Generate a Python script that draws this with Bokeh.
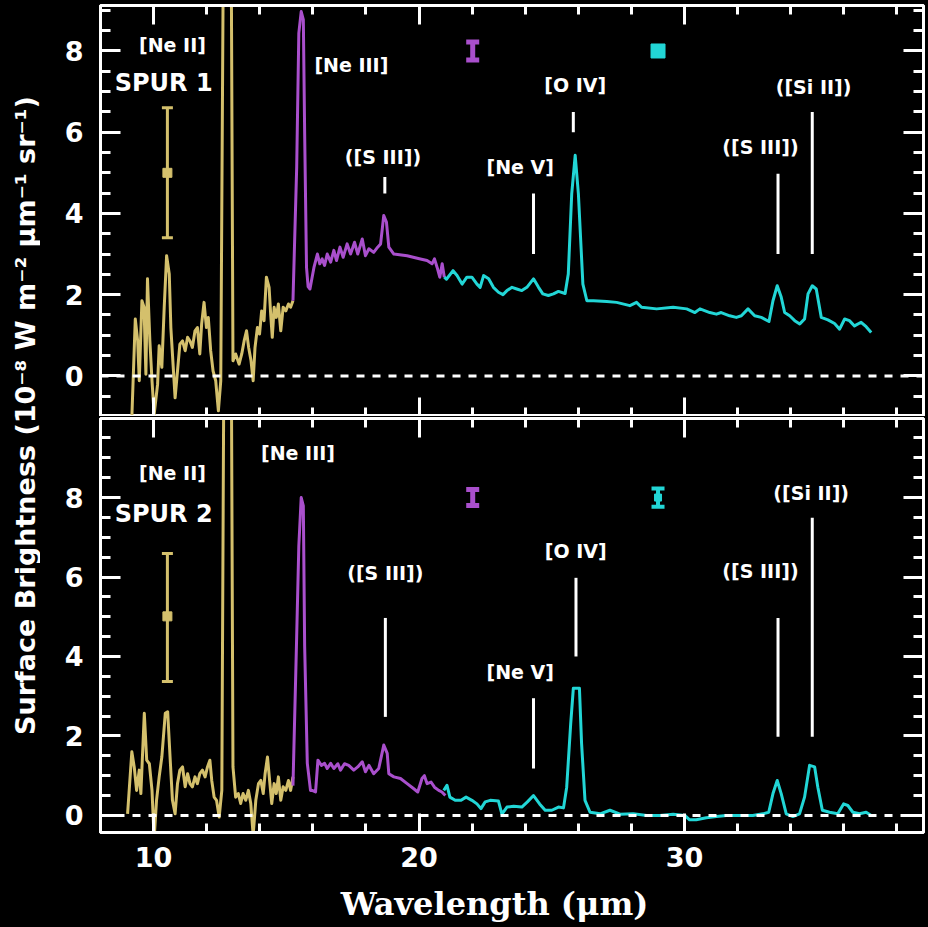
import math
from bokeh.plotting import figure
from bokeh.layouts import row, column
from bokeh.models import (Range1d, SingleIntervalTicker, LinearAxis, Span, Whisker,
                          TeeHead, ColumnDataSource, Label, CustomLabelingPolicy)
from bokeh.embed import file_html
from bokeh.resources import INLINE
from bokeh.core.properties import value

YELLOW = "#d4c06c"
PURPLE = "#a94fcc"
CYAN = "#22d6d6"

# ---------------- SPUR 1 (top panel) ----------------
wl1_short = [9.15, 9.31, 9.40, 9.46, 9.56, 9.64, 9.71, 9.77, 9.86, 9.94, 10.02, 10.15, 10.21,
             10.31, 10.40, 10.49, 10.59, 10.65, 10.74, 10.81, 10.90, 10.99, 11.09, 11.19, 11.28,
             11.37, 11.46, 11.56, 11.65, 11.74, 11.81, 11.90, 11.99, 12.06, 12.15, 12.24, 12.34,
             12.44, 12.53, 12.66, 12.90, 12.99, 13.09, 13.22, 13.32, 13.41, 13.50, 13.58, 13.67,
             13.75, 13.82, 13.91, 13.99, 14.07, 14.16, 14.25, 14.35, 14.41, 14.47, 14.54, 14.62,
             14.70, 14.79, 14.88, 14.98, 15.08, 15.16, 15.25]
sb1_short = [-1.6, 1.40, 0.86, -0.12, 1.85, 1.69, 0.04, 2.39, 0.86, -0.12, -0.95, -0.21, 0.74,
             0.21, 1.69, 2.96, 2.51, 1.19, 0.21, -0.54, 0.12, 0.78, 0.86, 0.62, 0.95,
             0.86, 0.70, 1.11, 1.19, 0.54, 1.28, 1.81, 1.19, 1.44, 0.62, 0.12, -0.12,
             -0.86, -0.12, 14.0, 14.0, 0.37, 0.54, 0.29, 0.54, 0.86, 1.11, 0.70, 0.37,
             -0.12, 0.70, 1.19, 1.03, 1.60, 1.36, 2.43, 2.18, 1.52, 0.95, 1.69, 1.44,
             1.77, 1.11, 1.69, 1.60, 1.77, 1.69, 1.85]

wl1_mid = [15.25, 15.39, 15.47, 15.56, 15.64, 15.69, 15.76, 15.82, 15.89, 16.04, 16.17, 16.26,
           16.35, 16.44, 16.54, 16.67, 16.79, 16.89, 17.02, 17.14, 17.29, 17.42, 17.57, 17.69,
           17.86, 17.98, 18.11, 18.29, 18.44, 18.55, 18.67, 18.77, 18.86, 19.05, 19.55, 20.05,
           20.30, 20.49, 20.58, 20.68, 20.78, 20.87, 20.95]
sb1_mid = [1.85, 5.14, 8.44, 8.97, 8.77, 5.97, 2.67, 2.20, 2.14, 2.67, 3.00, 2.76,
           2.88, 2.72, 3.00, 2.80, 3.09, 2.84, 3.17, 2.92, 3.25, 3.00, 3.29, 3.00,
           3.37, 2.96, 3.13, 3.04, 3.17, 3.25, 3.95, 3.79, 3.17, 3.00, 2.96, 2.88,
           2.84, 2.76, 2.88, 2.67, 2.43, 2.76, 2.43]

wl1_long = [20.95, 21.03, 21.28, 21.43, 21.62, 21.80, 21.99, 22.18, 22.30, 22.43, 22.62, 22.80,
            22.99, 23.16, 23.31, 23.50, 23.68, 23.87, 24.06, 24.31, 24.50, 24.66, 24.87, 25.06,
            25.25, 25.50, 25.62, 25.75, 25.88, 26.00, 26.17, 26.32, 26.57, 27.07, 27.44, 27.94,
            28.19, 28.38, 28.95, 29.57, 30.08, 30.39, 30.58, 30.95, 31.20, 31.38, 31.70, 31.95,
            32.14, 32.39, 32.64, 32.89, 33.18, 33.33, 33.49, 33.64, 33.77, 33.96, 34.15, 34.34,
            34.52, 34.65, 34.81, 34.96, 35.15, 35.40, 35.65, 35.84, 36.03, 36.21, 36.40, 36.65,
            36.84, 37.03]
sb1_long = [2.43, 2.38, 2.59, 2.47, 2.26, 2.43, 2.43, 2.26, 2.18, 2.47, 2.39, 2.18,
            2.06, 2.00, 2.10, 2.18, 2.14, 2.10, 2.18, 2.39, 2.18, 2.02, 1.98, 2.02,
            2.08, 2.03, 2.51, 4.49, 5.43, 4.49, 2.26, 1.85, 1.85, 1.83, 1.81, 1.73,
            1.81, 1.69, 1.65, 1.69, 1.65, 1.56, 1.65, 1.56, 1.52, 1.56, 1.48, 1.44,
            1.48, 1.65, 1.48, 1.44, 1.34, 1.85, 2.22, 1.94, 1.56, 1.48, 1.36, 1.28,
            1.40, 2.02, 2.22, 2.14, 1.44, 1.38, 1.29, 1.15, 1.40, 1.36, 1.23, 1.32,
            1.21, 1.07]

# error bars: x, centre, lower, upper
err1_x = [10.52, 22.02, 29.0]
err1_y = [5.0, 8.0, 8.0]
err1_lo = [3.4, 7.78, 7.9]
err1_hi = [6.6, 8.22, 8.1]

# ---------------- SPUR 2 (bottom panel) ----------------
wl2_short = [9.02, 9.18, 9.27, 9.36, 9.46, 9.52, 9.65, 9.74, 9.84, 9.94, 10.02, 10.11, 10.21,
             10.31, 10.44, 10.53, 10.62, 10.71, 10.81, 10.90, 10.99, 11.09, 11.19, 11.28, 11.37,
             11.46, 11.56, 11.65, 11.74, 11.84, 11.94, 12.03, 12.12, 12.19, 12.28, 12.37, 12.47,
             12.57, 12.68, 12.90, 12.99, 13.09, 13.19, 13.28, 13.37, 13.47, 13.57, 13.66, 13.75,
             13.85, 13.95, 14.04, 14.13, 14.20, 14.29, 14.37, 14.45, 14.54, 14.62, 14.70, 14.79,
             14.88, 14.98, 15.08, 15.16, 15.25]
sb2_short = [0.04, 1.60, 1.22, 0.63, 1.14, 0.55, 2.57, 1.39, 1.30, 0.63, -0.6, 0.38, 0.97,
             1.47, 2.57, 2.61, 1.47, 0.38, 0.04, 0.80, 1.14, 1.22, 0.72, 1.05, 0.80,
             0.72, 0.97, 0.80, 1.05, 1.14, 0.97, 1.22, 1.39, 0.88, 0.46, 0.38, -0.04,
             0.63, 16.0, 16.0, 1.22, 0.46, 0.55, 0.30, 0.55, 0.38, 0.63, 0.30, -0.5,
             0.38, 0.80, 0.88, 0.55, 1.05, 1.47, 0.88, 0.30, 0.80, 0.55, 0.97, 0.38,
             0.72, 0.63, 0.88, 0.63, 0.97]

wl2_mid = [15.25, 15.38, 15.47, 15.56, 15.64, 15.69, 15.79, 15.91, 15.97, 16.10, 16.19, 16.32,
           16.44, 16.54, 16.67, 16.79, 16.94, 17.04, 17.19, 17.35, 17.54, 17.69, 17.86, 17.98,
           18.11, 18.29, 18.48, 18.67, 18.80, 18.86, 19.05, 19.30, 19.55, 19.80, 19.95, 20.11,
           20.20, 20.30, 20.45, 20.58, 20.74, 20.86, 20.99]
sb2_mid = [0.75, 4.25, 6.78, 8.00, 7.79, 4.25, 1.31, 0.63, 0.63, 0.59, 1.39, 1.26,
           1.31, 1.18, 1.31, 1.18, 1.30, 1.14, 1.30, 1.26, 1.14, 1.22, 1.35, 1.10,
           1.26, 1.05, 1.18, 1.77, 1.56, 1.05, 0.97, 0.93, 0.80, 0.67, 0.59, 0.93,
           1.00, 0.80, 0.84, 0.71, 0.63, 0.59, 0.50]

wl2_long = [20.93, 21.05, 21.16, 21.36, 21.58, 21.77, 21.99, 22.18, 22.33, 22.49, 22.68, 22.99,
            23.12, 23.31, 23.56, 23.87, 24.08, 24.31, 24.54, 24.75, 25.00, 25.25, 25.44, 25.56,
            25.71, 25.81, 26.04, 26.12, 26.25, 26.44, 26.82, 27.19, 27.57, 28.07, 28.57, 29.07,
            29.57, 30.01, 30.19, 30.44, 30.82, 31.20, 31.57, 32.07, 32.57, 32.95, 33.17, 33.33,
            33.49, 33.64, 33.83, 34.08, 34.33, 34.52, 34.71, 34.90, 35.02, 35.19, 35.46, 35.77,
            35.99, 36.15, 36.34, 36.59, 36.84, 37.03]
sb2_long = [0.63, 0.76, 0.46, 0.38, 0.38, 0.46, 0.38, 0.29, 0.17, 0.34, 0.38, 0.36,
            0.03, 0.21, 0.23, 0.21, 0.34, 0.50, 0.29, 0.13, 0.13, 0.21, 0.19, 0.71,
            2.30, 3.20, 3.20, 1.82, 0.38, 0.08, 0.04, 0.13, 0.03, 0.04, 0.00, 0.00,
            0.03, 0.00, -0.11, -0.11, -0.06, -0.03, 0.00, 0.00, 0.00, 0.04, 0.08, 0.55,
            0.88, 0.55, 0.04, -0.03, 0.04, 0.46, 1.26, 1.22, 0.71, 0.13, 0.08, 0.04,
            0.29, 0.25, 0.08, 0.04, 0.08, 0.00]

err2_x = [10.52, 22.02, 29.0]
err2_y = [5.01, 8.0, 8.0]
err2_lo = [3.37, 7.8, 7.77]
err2_hi = [6.59, 8.2, 8.23]

# line identifications: label, label x, label y, marker x, marker y0, marker y1
lines1_text = ["[Ne II]", "[Ne III]", "([S III])", "[Ne V]", "[O IV]", "([S III])", "([Si II])"]
lines1_tx = [10.71, 17.45, 18.64, 23.81, 25.88, 32.86, 34.86]
lines1_ty = [8.15, 7.65, 5.39, 5.14, 7.16, 5.64, 7.12]
marks1_x = [18.71, 24.31, 25.81, 33.52, 34.81]
marks1_y0 = [4.49, 3.0, 6.0, 3.0, 3.0]
marks1_y1 = [4.90, 4.49, 6.5, 4.98, 6.5]

lines2_text = ["[Ne II]", "[Ne III]", "([S III])", "[Ne V]", "[O IV]", "([S III])", "([Si II])"]
lines2_tx = [10.71, 15.44, 18.73, 23.81, 25.90, 32.86, 34.77]
lines2_ty = [8.63, 9.13, 6.10, 3.62, 6.65, 6.14, 8.12]
marks2_x = [18.73, 24.31, 25.91, 33.52, 34.81]
marks2_y0 = [2.48, 1.18, 4.0, 1.98, 1.98]
marks2_y1 = [4.97, 2.95, 5.98, 4.97, 7.49]

FONT = "DejaVu Sans"


def style_axis(ax, labels):
    ax.axis_line_color = "white"
    ax.axis_line_width = 3
    ax.major_tick_line_color = "white"
    ax.major_tick_line_width = 3
    ax.minor_tick_line_color = "white"
    ax.minor_tick_line_width = 3
    ax.major_tick_out = 0
    ax.minor_tick_out = 0
    ax.axis_label = None
    if labels:
        ax.major_label_text_color = "white"
        ax.major_label_text_font = FONT
        ax.major_label_text_font_style = "bold"
        ax.major_label_text_font_size = "27px"
    else:
        ax.major_label_text_font_size = "0px"
        ax.major_label_standoff = 0
        ax.major_label_policy = CustomLabelingPolicy(code="return []")


def blank_fig(w, h):
    f = figure(width=w, height=h, x_range=Range1d(0, 1), y_range=Range1d(0, 1),
               toolbar_location=None, output_backend="svg",
               x_axis_location=None, y_axis_location=None, min_border=0)
    f.background_fill_color = "black"
    f.border_fill_color = "black"
    f.outline_line_color = None
    f.grid.visible = False
    return f


def make_panel(height, yr, mb_top, mb_bottom, show_x_labels, spectra, err, labels, marks, spur):
    p = figure(width=888, height=height, x_range=Range1d(8, 39), y_range=Range1d(*yr),
               toolbar_location=None, output_backend="svg",
               x_axis_location=None, y_axis_location=None,
               min_border_left=60, min_border_right=5,
               min_border_top=mb_top, min_border_bottom=mb_bottom)
    p.background_fill_color = "black"
    p.border_fill_color = "black"
    p.outline_line_color = "white"
    p.outline_line_width = 3
    p.grid.visible = False

    for loc, lab in (("below", show_x_labels), ("above", False)):
        ax = LinearAxis(ticker=SingleIntervalTicker(interval=10, num_minor_ticks=5))
        style_axis(ax, lab)
        ax.major_tick_in = 19
        ax.minor_tick_in = 9
        if lab:
            ax.major_label_standoff = 14
        p.add_layout(ax, loc)
    for loc, lab in (("left", True), ("right", False)):
        ax = LinearAxis(ticker=SingleIntervalTicker(interval=2, num_minor_ticks=4))
        style_axis(ax, lab)
        ax.major_tick_in = 20
        ax.minor_tick_in = 10
        if lab:
            ax.major_label_standoff = 17
        p.add_layout(ax, loc)

    p.add_layout(Span(location=0, dimension="width", line_color="white",
                      line_width=3, line_dash="8 8"))

    for (wl, sb), col in zip(spectra, (YELLOW, PURPLE, CYAN)):
        p.line(wl, sb, line_color=col, line_width=3, line_join="round")

    ex, ey, elo, ehi = err
    cols = [YELLOW, PURPLE, CYAN]
    widths = [3, 5, 4]
    heads = [11, 13, 13]
    for i in range(3):
        src = ColumnDataSource(dict(x=[ex[i]], lo=[elo[i]], hi=[ehi[i]]))
        p.add_layout(Whisker(base="x", lower="lo", upper="hi", source=src, dimension="height",
                             line_color=cols[i], line_width=widths[i],
                             upper_head=TeeHead(size=heads[i], line_color=cols[i], line_width=widths[i]),
                             lower_head=TeeHead(size=heads[i], line_color=cols[i], line_width=widths[i])))
    p.scatter([ex[0]], [ey[0]], marker="square", size=9, color=YELLOW)
    p.scatter([ex[2]], [ey[2]], marker="square", size=spur[2], color=CYAN)

    txt, tx, ty = labels
    p.text(tx, ty, text=txt, text_color="white", text_font=value(FONT),
           text_font_style="bold", text_font_size="19px",
           text_align="center", text_baseline="middle")
    mx, my0, my1 = marks
    p.segment(mx, my0, mx, my1, line_color="white", line_width=3)

    p.text([10.38], [spur[1]], text=[spur[0]], text_color="white", text_font=value(FONT),
           text_font_style="bold", text_font_size="24px",
           text_align="center", text_baseline="middle")
    return p


top = make_panel(416, (-1.0, 9.12), 5, 0, False,
                 [(wl1_short, sb1_short), (wl1_mid, sb1_mid), (wl1_long, sb1_long)],
                 (err1_x, err1_y, err1_lo, err1_hi),
                 (lines1_text, lines1_tx, lines1_ty),
                 (marks1_x, marks1_y0, marks1_y1),
                 ("SPUR 1", 7.2, 14))
bottom = make_panel(464, (-0.43, 9.99), 2, 48, True,
                    [(wl2_short, sb2_short), (wl2_mid, sb2_mid), (wl2_long, sb2_long)],
                    (err2_x, err2_y, err2_lo, err2_hi),
                    (lines2_text, lines2_tx, lines2_ty),
                    (marks2_x, marks2_y0, marks2_y1),
                    ("SPUR 2", 7.58, 7))

# x-axis title strip under the lower panel
xlab = blank_fig(888, 47)
xlab.add_layout(Label(x=394, y=24, x_units="screen", y_units="screen",
                      text="Wavelength (μm)", text_align="center",
                      text_baseline="alphabetic", text_color="white",
                      text_font="DejaVu Serif", text_font_style="bold",
                      text_font_size="32px"))

# y-axis title strip spanning both panels
ylab = blank_fig(40, 927)
ylab.add_layout(Label(x=25, y=512, x_units="screen", y_units="screen",
                      text="Surface Brightness (10⁻⁸ W m⁻² μm⁻¹ sr⁻¹)",
                      angle=math.pi / 2, text_align="center", text_baseline="middle",
                      text_color="white", text_font=FONT, text_font_style="bold",
                      text_font_size="27px"))

layout = row(ylab, column(top, bottom, xlab))
html = file_html(layout, INLINE)
html = html.replace("<head>", "<head><style>html, body {background: #000; margin: 0;}</style>", 1)
open("out.html", "w").write(html)
